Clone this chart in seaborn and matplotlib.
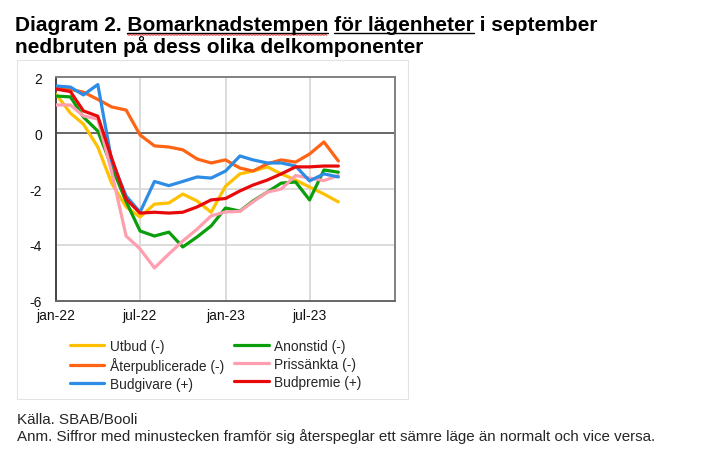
#!/usr/bin/env python3
"""
Diagram 2: Bomarknadstempen för lägenheter, nedbruten på delkomponenter
"""

import pandas as pd
import matplotlib.pyplot as plt
from matplotlib.lines import Line2D
from matplotlib.patches import Rectangle
import seaborn as sns
import numpy as np

# Monthly data jan-22 .. sep-23
months = pd.date_range('2022-01-01', periods=21, freq='MS')

utbud = [1.39, 0.71, 0.32, -0.5, -1.8, -2.64, -3.0, -2.54, -2.5, -2.18, -2.43,
         -2.83, -1.9, -1.46, -1.36, -1.21, -1.46, -1.68, -1.93, -2.18, -2.46]
anonstid = [1.32, 1.29, 0.57, 0.07, -1.2, -2.45, -3.5, -3.68, -3.54, -4.07, -3.71,
            -3.32, -2.68, -2.79, -2.43, -2.11, -1.79, -1.75, -2.39, -1.32, -1.4]
aterpubl = [1.6, 1.55, 1.46, 1.2, 0.93, 0.82, -0.07, -0.46, -0.5, -0.6, -0.93,
            -1.07, -0.96, -1.25, -1.36, -1.1, -0.96, -1.04, -0.75, -0.32, -1.0]
prissankta = [1.0, 1.0, 0.61, 0.5, -1.4, -3.68, -4.14, -4.82, -4.32, -3.86, -3.43,
              -2.96, -2.82, -2.8, -2.46, -2.11, -2.0, -1.52, -1.61, -1.7, -1.52]
budgivare = [1.68, 1.64, 1.36, 1.73, -1.0, -2.25, -2.83, -1.73, -1.88, -1.73, -1.57,
             -1.61, -1.36, -0.82, -0.96, -1.07, -1.07, -1.18, -1.71, -1.46, -1.57]
budpremie = [1.57, 1.48, 0.79, 0.6, -0.9, -2.36, -2.86, -2.83, -2.86, -2.83, -2.64,
             -2.39, -2.34, -2.07, -1.86, -1.68, -1.46, -1.21, -1.21, -1.18, -1.18]

series_names = ['Utbud (-)', 'Anonstid (-)', 'Återpublicerade (-)',
                'Prissänkta (-)', 'Budgivare (+)', 'Budpremie (+)']
series_values = [utbud, anonstid, aterpubl, prissankta, budgivare, budpremie]
colors = ['#FFC000', '#0A9E0A', '#FF6414', '#FF9EAE', '#2D8CE6', '#E80A0A']

tick_dates = ['2022-01-01', '2022-07-01', '2023-01-01', '2023-07-01']
tick_labels = ['jan-22', 'jul-22', 'jan-23', 'jul-23']

W, H = 720, 456


def main():
    sns.set_style("white")
    plt.rcParams['font.family'] = ['Liberation Sans', 'DejaVu Sans']

    df = pd.DataFrame({
        'Datum': np.tile(months, len(series_names)),
        'Serie': np.repeat(series_names, len(months)),
        'Varde': np.concatenate(series_values),
    })

    fig = plt.figure(figsize=(W / 100, H / 100), dpi=100)
    ax = fig.add_axes([56 / W, 1 - 302 / H, (395 - 56) / W, (302 - 78) / H])

    sns.lineplot(data=df, x='Datum', y='Varde', hue='Serie',
                 hue_order=series_names, palette=colors,
                 linewidth=2.3, ax=ax, legend=True, zorder=3)

    # axes, grid
    ax.set_xlim(pd.Timestamp('2022-01-01'), pd.Timestamp('2024-01-01'))
    ax.set_ylim(-6, 2)
    ax.set_yticks([-6, -4, -2, 0, 2])
    ax.set_yticklabels(['-6', '-4', '-2', '0', '2'])
    ax.set_xticks([pd.Timestamp(d) for d in tick_dates])
    ax.set_xticklabels(tick_labels)
    ax.set_xlabel('')
    ax.set_ylabel('')
    ax.tick_params(axis='both', length=0, labelsize=10, colors='#111111')
    ax.tick_params(axis='y', pad=10)
    ax.tick_params(axis='x', pad=5)

    for y in [-4, -2]:
        ax.axhline(y, color='#D9D9D9', lw=1.3, zorder=1)
    for d in tick_dates[1:]:
        ax.axvline(pd.Timestamp(d), color='#D9D9D9', lw=1.3, zorder=1)
    ax.axhline(0, color='#666666', lw=1.4, zorder=2)

    ax.spines['left'].set_color('#444444')
    ax.spines['bottom'].set_color('#666666')
    ax.spines['top'].set_color('#808080')
    ax.spines['right'].set_color('#808080')
    for s in ax.spines.values():
        s.set_linewidth(1.4)

    # legend: Excel order reads row by row
    handles, labels = ax.get_legend_handles_labels()
    lookup = dict(zip(labels, handles))
    order = ['Utbud (-)', 'Återpublicerade (-)', 'Budgivare (+)',
             'Anonstid (-)', 'Prissänkta (-)', 'Budpremie (+)']
    leg = ax.legend([lookup[k] for k in order], order, ncol=2, frameon=False,
                    loc='upper left', bbox_to_anchor=(70 / W, 1 - 340 / H),
                    bbox_transform=fig.transFigure, fontsize=9.9,
                    handlelength=2.5, handletextpad=0.4, columnspacing=0.75,
                    labelspacing=0.3, borderpad=0, borderaxespad=0)
    for line in leg.get_lines():
        line.set_linewidth(2.3)

    # chart object border
    fig.add_artist(Rectangle((17 / W, 1 - 400 / H), (408 - 17) / W, (400 - 61) / H,
                             transform=fig.transFigure, fill=False,
                             edgecolor='#E3E3E3', lw=0.8))

    # title with underlines
    line1 = 'Diagram 2. Bomarknadstempen för lägenheter i september'
    line2 = 'nedbruten på dess olika delkomponenter'
    tsize = 15
    t1 = fig.text(15 / W, 1 - 31 / H, line1, fontsize=tsize, weight='bold',
                  va='baseline', color='black')
    fig.text(15 / W, 1 - 53 / H, line2, fontsize=tsize, weight='bold',
             va='baseline', color='black')

    fig.canvas.draw()
    renderer = fig.canvas.get_renderer()

    def text_width(s):
        t = fig.text(0, 0, s, fontsize=tsize, weight='bold')
        w = t.get_window_extent(renderer).width
        t.remove()
        return w

    x_start = t1.get_window_extent(renderer).x0
    uy = 1 - 33.5 / H
    for word in ['Bomarknadstempen', 'för lägenheter']:
        idx = line1.index(word)
        end = x_start + text_width(line1[:idx + len(word)])
        start = end - text_width(word)
        fig.add_artist(Line2D([start / W, end / W], [uy, uy],
                              transform=fig.transFigure, color='black', lw=1.0))
        if word == 'Bomarknadstempen':
            xs = np.arange(start, end, 1.5)
            ys = 1 - (35.5 + 0.8 * (np.arange(len(xs)) % 2)) / H
            fig.add_artist(Line2D(xs / W, ys, transform=fig.transFigure,
                                  color='#E03030', lw=0.7))

    # footer
    fig.text(17 / W, 1 - 424 / H, 'Källa. SBAB/Booli', fontsize=10.9, va='baseline')
    fig.text(17 / W, 1 - 441 / H,
             'Anm. Siffror med minustecken framför sig återspeglar ett sämre läge '
             'än normalt och vice versa.', fontsize=10.9, va='baseline')

    fig.savefig('out.png', dpi=100)
    plt.close(fig)


if __name__ == "__main__":
    main()
